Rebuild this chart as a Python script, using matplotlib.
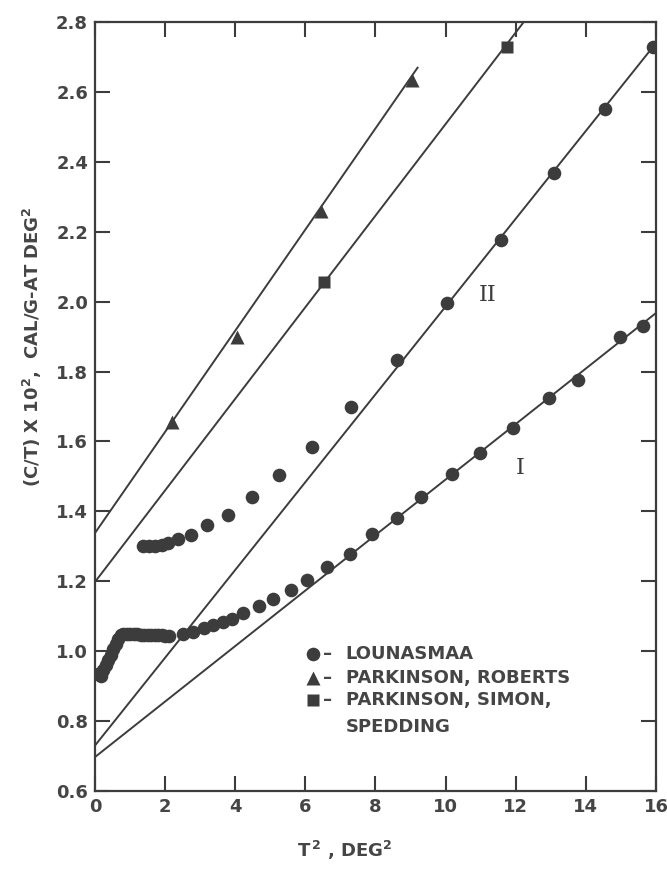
import numpy as np
import matplotlib
matplotlib.use("Agg")
import matplotlib.pyplot as plt

# Lounasmaa, lower branch (curve I)
low_x = [0.1, 0.17, 0.24, 0.31, 0.38, 0.45, 0.52, 0.59, 0.66, 0.73, 0.8, 0.9, 1.0, 1.1, 1.2,
         1.3, 1.4, 1.5, 1.6, 1.7, 1.8, 1.9, 2.0, 2.1, 2.5, 2.8, 3.1, 3.37, 3.66, 3.9, 4.23,
         4.67, 5.09, 5.6, 6.06, 6.62, 7.26, 7.89, 8.6, 9.31, 10.17, 10.97, 11.91, 12.94,
         13.77, 14.97, 15.63]
low_y = [0.935, 0.93, 0.945, 0.96, 0.975, 0.99, 1.005, 1.02, 1.035, 1.045, 1.05, 1.05, 1.05,
         1.048, 1.048, 1.047, 1.047, 1.046, 1.046, 1.045, 1.045, 1.045, 1.044, 1.044, 1.05,
         1.056, 1.066, 1.075, 1.082, 1.092, 1.109, 1.129, 1.149, 1.175, 1.204, 1.241, 1.278,
         1.335, 1.38, 1.441, 1.507, 1.567, 1.639, 1.724, 1.776, 1.899, 1.930]

# Lounasmaa, upper branch (curve II)
up_x = [1.37, 1.55, 1.72, 1.9, 2.08, 2.37, 2.74, 3.2, 3.8, 4.49, 5.26, 6.2, 7.31, 8.6,
        10.03, 11.57, 13.09, 14.54, 15.91]
up_y = [1.30, 1.30, 1.30, 1.303, 1.308, 1.322, 1.333, 1.361, 1.39, 1.441, 1.504, 1.584,
        1.699, 1.833, 1.996, 2.177, 2.368, 2.551, 2.729]

# Parkinson, Roberts
tri_x = [2.2, 4.05, 6.45, 9.05]
tri_y = [1.655, 1.90, 2.26, 2.635]

# Parkinson, Simon, Spedding
sq_x = [6.52, 11.74]
sq_y = [2.056, 2.729]

# straight lines: intercept, slope, x end
line_b = [0.697, 0.73, 1.198, 1.338]
line_m = [0.0794, 0.1256, 0.131, 0.1447]
line_xend = [16, 16, 12.3, 9.2]

legend_names = ["LOUNASMAA", "PARKINSON, ROBERTS", "PARKINSON, SIMON,", "SPEDDING"]

ink = "#3c3c3c"
txt = "#454545"

fig = plt.figure(figsize=(6.67, 8.69), dpi=100)
ax = fig.add_axes([0.1424, 0.0898, 0.8411, 0.8849])

for b, m, xe in zip(line_b, line_m, line_xend):
    xs = np.array([0, xe])
    ax.plot(xs, b + m * xs, color=ink, lw=1.4)

ax.plot(low_x, low_y, "o", color=ink, ms=9.8, mec="none")
ax.plot(up_x, up_y, "o", color=ink, ms=9.8, mec="none")
ax.plot(tri_x, tri_y, "^", color=ink, ms=9.5, mec="none")
ax.plot(sq_x, sq_y, "s", color=ink, ms=8.5, mec="none")

ax.set_xlim(0, 16)
ax.set_ylim(0.6, 2.8)
ax.set_xticks(np.arange(0, 17, 2))
ax.set_yticks(np.arange(0.6, 2.81, 0.2))
ax.set_yticklabels(["%.1f" % v for v in np.arange(0.6, 2.81, 0.2)])
ax.tick_params(direction="in", length=11, width=1.5, color=ink, labelcolor=txt,
               labelsize=13, top=True, right=True, pad=5)
for lab in ax.get_xticklabels() + ax.get_yticklabels():
    lab.set_fontweight("bold")
for s in ax.spines.values():
    s.set_linewidth(1.6)
    s.set_color(ink)

fig.text(345 / 667, 1 - 850 / 869, "T$^{\\,\\mathbf{2}}$ , DEG$^{\\mathbf{2}}$", fontsize=13,
         color=txt, ha="center", va="center", fontweight="bold")
fig.text(32 / 667, 1 - 347 / 869, "(C/T) X 10$^{\\mathbf{2}}$,  CAL/G-AT DEG$^{\\mathbf{2}}$",
         fontsize=13, color=txt, ha="center", va="center", rotation=90, fontweight="bold")

ax.text(11.2, 2.02, "II", fontsize=16, family="DejaVu Serif", color=ink, ha="center", va="center")
ax.text(12.14, 1.524, "I", fontsize=16, family="DejaVu Serif", color=ink, ha="center", va="center")

# legend drawn by hand
lx, dx, tx = 6.22, 6.5, 7.15
rows = [0.992, 0.922, 0.86, 0.783]
ax.plot(lx, rows[0], "o", color=ink, ms=9.8, mec="none")
ax.plot(lx, rows[1], "^", color=ink, ms=9.5, mec="none")
ax.plot(lx, rows[2], "s", color=ink, ms=8.5, mec="none")
kw = dict(fontsize=13, color=txt, va="center", ha="left", fontweight="bold")
for i, name in enumerate(legend_names):
    if i < 3:
        ax.text(dx, rows[i], "–", **kw)
    ax.text(tx, rows[i], name, **kw)

fig.savefig("out.png", dpi=100)
